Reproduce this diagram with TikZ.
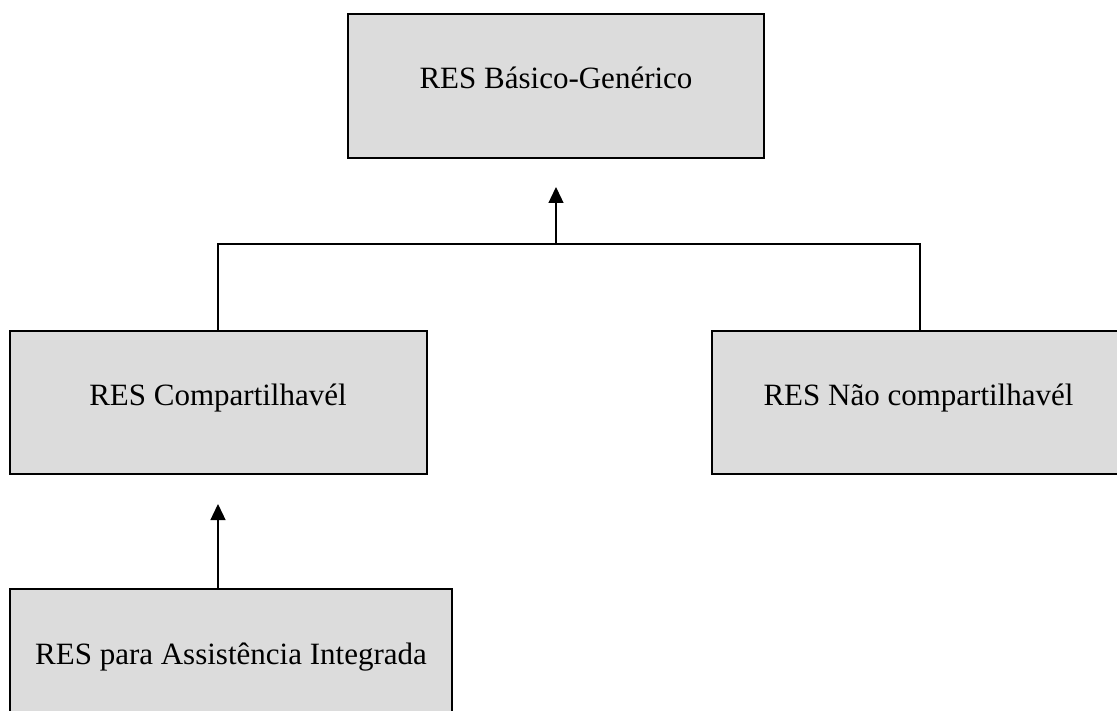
\documentclass[tikz,border=0pt]{standalone}
\usepackage{fontspec}
\setmainfont{Liberation Serif}
\usetikzlibrary{arrows.meta}
\definecolor{boxfill}{RGB}{220,220,220}
\tikzset{
  x=1pt, y=1pt,
  box/.style={draw=black, fill=boxfill, line width=1.6pt, rectangle, inner sep=0pt},
  lbl/.style={anchor=base, inner sep=0pt, font=\fontsize{31}{36}\selectfont},
  link/.style={draw=black, line width=1.3pt},
  uparrow/.style={link, -{Triangle[width=15pt, length=16pt]}}
}
\begin{document}
\begin{tikzpicture}
\useasboundingbox (0,0) rectangle (1117,-711);
\clip (0,0) rectangle (1117,-711);

% boxes (image y measured downwards, hence the negative values)
\node[box, minimum width=416, minimum height=144] (generic) at (556,-86) {};
\node[lbl] (genericT) at (556,-89) {RES Básico-Genérico};

\node[box, minimum width=417, minimum height=143] (shared) at (218.5,-402.5) {};
\node[lbl] (sharedT) at (218,-406) {RES Compartilhavél};

\node[box, minimum width=430, minimum height=143] (nonshared) at (927,-402.5) {};
\node[lbl] (nonsharedT) at (918.5,-406) {RES Não compartilhavél};

\node[box, minimum width=442, minimum height=160] (integrated) at (231,-669) {};
\node[lbl] (integratedT) at (231,-664) {RES para Assistência Integrada};

% junction of the inheritance tree
\coordinate (joinL) at (218,-244);
\coordinate (joinR) at (920,-244);
\coordinate (joinM) at (556,-244);
\coordinate (tipTop) at (556,-187);
\coordinate (tipShared) at (218,-504);

\draw[link] (shared.north -| joinL) -- (joinL) -- (joinR) -- (nonshared.north -| joinR);
\draw[uparrow] (joinM) -- (tipTop);
\draw[uparrow] (integrated.north -| tipShared) -- (tipShared);
\end{tikzpicture}
\end{document}
